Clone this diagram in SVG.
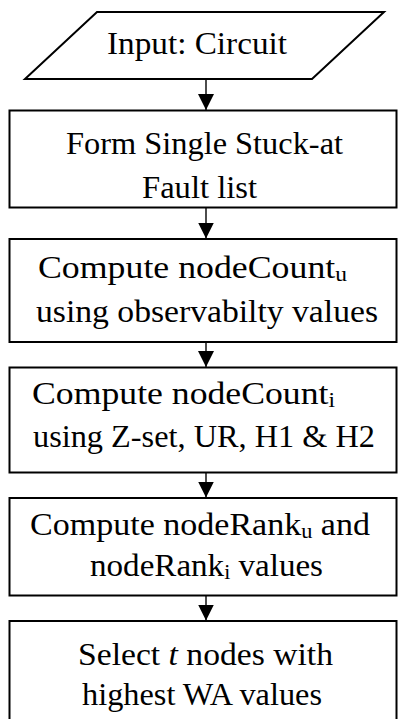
<svg xmlns="http://www.w3.org/2000/svg" width="398" height="719" viewBox="0 0 398 719">
  <style>
    .shape { fill: #ffffff; stroke: #000000; stroke-width: 2; }
    .label { font-family: "Liberation Serif", "DejaVu Serif", serif; font-size: 32px; fill: #000000; }
    .sub { font-size: 21px; }
    .edge { stroke: #000000; stroke-width: 1.4; fill: none; marker-end: url(#arrow); }
  </style>
  <defs>
    <marker id="arrow" markerUnits="userSpaceOnUse" markerWidth="16" markerHeight="16" refX="16" refY="8" orient="auto">
      <path d="M0,0 L16,8 L0,16 Z" fill="#000000"/>
    </marker>
  </defs>

  <rect width="398" height="719" fill="#ffffff"/>

  <!-- connectors -->
  <g id="connectors">
    <line class="edge" x1="206" y1="79" x2="206" y2="110"/>
    <line class="edge" x1="206" y1="207.5" x2="206" y2="238.5"/>
    <line class="edge" x1="206" y1="342" x2="206" y2="367"/>
    <line class="edge" x1="206" y1="472.5" x2="206" y2="497.5"/>
    <line class="edge" x1="206" y1="595.5" x2="206" y2="620.5"/>
  </g>

  <!-- input -->
  <g id="input">
    <polygon class="shape" points="97,12 384,12 312,79 25,79"/>
    <text class="label" x="107" y="54" textLength="180" lengthAdjust="spacingAndGlyphs">Input: Circuit</text>
  </g>

  <!-- fault list -->
  <g id="fault-list">
    <rect class="shape" x="9.5" y="110.5" width="387" height="97"/>
    <text class="label" x="66" y="154" textLength="277" lengthAdjust="spacingAndGlyphs">Form Single Stuck-at</text>
    <text class="label" x="142" y="198" textLength="115" lengthAdjust="spacingAndGlyphs">Fault list</text>
  </g>

  <!-- unweighted node count -->
  <g id="count-u">
    <rect class="shape" x="9.5" y="239" width="387" height="103"/>
    <text class="label" x="38" y="278" textLength="309" lengthAdjust="spacingAndGlyphs">Compute nodeCount<tspan class="sub" dy="3">u</tspan></text>
    <text class="label" x="36" y="322" textLength="342" lengthAdjust="spacingAndGlyphs">using observabilty values</text>
  </g>

  <!-- implied node count -->
  <g id="count-i">
    <rect class="shape" x="9.5" y="367.5" width="387" height="105"/>
    <text class="label" x="32" y="404" textLength="303" lengthAdjust="spacingAndGlyphs">Compute nodeCount<tspan class="sub" dy="3">i</tspan></text>
    <text class="label" x="33" y="447" textLength="342" lengthAdjust="spacingAndGlyphs">using Z-set, UR, H1 &amp; H2</text>
  </g>

  <!-- node ranks -->
  <g id="rank">
    <rect class="shape" x="9.5" y="498" width="387" height="97.5"/>
    <text class="label" x="30" y="535" textLength="340" lengthAdjust="spacingAndGlyphs">Compute nodeRank<tspan class="sub" dy="3">u</tspan><tspan dy="-3"> and</tspan></text>
    <text class="label" x="90" y="576" textLength="233" lengthAdjust="spacingAndGlyphs">nodeRank<tspan class="sub" dy="3">i</tspan><tspan dy="-3"> values</tspan></text>
  </g>

  <!-- selection -->
  <g id="select">
    <rect class="shape" x="9.5" y="621" width="387" height="120"/>
    <text class="label" x="78" y="665" textLength="255" lengthAdjust="spacingAndGlyphs">Select <tspan font-style="italic">t</tspan> nodes with</text>
    <text class="label" x="82" y="705" textLength="240" lengthAdjust="spacingAndGlyphs">highest WA values</text>
  </g>
</svg>
